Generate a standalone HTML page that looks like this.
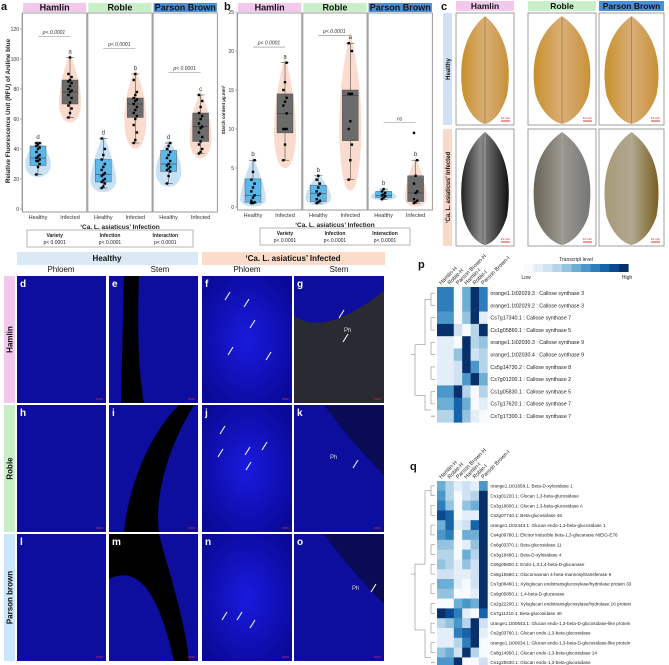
<!DOCTYPE html>
<html><head><meta charset="utf-8"><style>
body{margin:0;background:#fff;}
svg{display:block;font-family:"Liberation Sans",sans-serif;}
</style></head><body>
<svg id="fig" width="669" height="665" viewBox="0 0 669 665" xmlns="http://www.w3.org/2000/svg">
<defs>
<radialGradient id="glowB" cx="50%" cy="50%" r="60%"><stop offset="0" stop-color="#1a1ae0"/><stop offset="1" stop-color="#0a0a9a"/></radialGradient>
<linearGradient id="leafH" x1="0" x2="1"><stop offset="0" stop-color="#c8902a"/><stop offset="0.5" stop-color="#d9ae78"/><stop offset="1" stop-color="#c89038"/></linearGradient>
<linearGradient id="leafI1" x1="0" x2="1"><stop offset="0" stop-color="#222"/><stop offset="0.4" stop-color="#888"/><stop offset="1" stop-color="#111"/></linearGradient>
<linearGradient id="leafI2" x1="0" x2="1"><stop offset="0" stop-color="#6a6458"/><stop offset="0.5" stop-color="#9a9890"/><stop offset="1" stop-color="#777"/></linearGradient>
<linearGradient id="leafI3" x1="0" x2="1"><stop offset="0" stop-color="#a89a7a"/><stop offset="0.5" stop-color="#b0a890"/><stop offset="1" stop-color="#7a6020"/></linearGradient>
</defs>
<g id="pa"></g>
<g id="pb"></g>
<g id="pc"></g>
<g id="pmic"></g>
<g id="pp"></g>
<g id="pq"></g>
</svg>
<script>
// ---------- Panel a data ----------
const varieties = ["Hamlin","Roble","Parson Brown"];
const groups = ["Healthy","Infected"];
const aMin = [[23,61],[14,44],[17,37]];
const aQ1 = [[29,70],[18,61],[25,45]];
const aMed = [[34,78],[23,70],[30,55]];
const aQ3 = [[42,86],[33,74],[39,64]];
const aMax = [[44,101],[47,90],[44,76]];
const aLetters = [["d","a"],["d","b"],["d","c"]];
const aBracket = [115,107,91];
const aPoints = [
 [[23,28,30,32,32,33,34,35,36,38,40,41,42,43,44,44],[61,64,67,69,71,74,76,78,79,80,82,84,85,86,88,90,101]],
 [[14,15,17,18,19,20,22,23,24,26,28,30,33,36,40,47],[44,46,51,56,60,62,64,66,68,70,72,73,74,76,78,86,90]],
 [[17,22,25,26,27,28,29,30,32,34,36,38,40,42,44],[37,38,40,43,45,48,51,54,55,57,60,62,64,68,72,76]]
];
const aTicks = [0,20,40,60,80,100,120];
// ---------- Panel b data ----------
const bMin = [[0.5,6],[0.5,3.5],[1,0.5]];
const bQ1 = [[0.6,9.5],[0.7,8.5],[1.2,0.7]];
const bMed = [[1.5,12],[1.7,14.3],[1.5,1.8]];
const bQ3 = [[3.6,14.5],[2.8,15],[2,4]];
const bMax = [[6,18.5],[4,21],[2.3,6]];
const bLetters = [["b","a"],["b","a"],["b","b"]];
const bBracket = [20.5,22,10.8];
const bBracketLabel = ["p< 0.0001","p< 0.0001","ns"];
const bPoints = [
 [[0.5,0.5,0.6,0.8,1.2,1.5,2,2.5,3,3.5,4.5,6],[6,8,10,10,10,12,13,13.5,14,15,16,18.5]],
 [[0.5,0.6,0.8,1,1.5,1.7,2,2.5,3,3.5,4],[3.5,6,8,10,11,14.5,14.5,14.5,20,21]],
 [[1,1.2,1.4,1.5,1.6,1.8,2,2.3],[0.5,0.6,0.8,1,1.8,2,3,4,6,9.5]]
];
const bTicks = [0,5,10,15,20,25];
// ---------- Heatmap p ----------
const pRows = ["orange1.1t02029.3 : Callose synthase 3","orange1.1t02029.2 : Callose synthase 3","Cs7g17340.1 : Callose synthase 7","Cs1g05860.1 : Callose synthase 5","orange1.1t02030.3 : Callose synthase 9","orange1.1t02030.4 : Callose synthase 9","Cs5g14730.2 : Callose synthase 8","Cs7g01200.1 : Callose synthase 2","Cs1g05830.1 : Callose synthase 5","Cs7g17620.1 : Callose synthase 7","Cs7g17300.1 : Callose synthase 7"];
const hmCols = ["Hamlin-H","Roble-H","Parson Brown-H","Hamlin-I","Roble-I","Parson Brown-I"];
const pVals = [[7,7,0,5,10,7],[7,7,0,5,10,7],[6,6,0,4,10,1],[10,10,2,0,3,10],[1,1,0,10,3,4],[1,1,4,10,2,3],[1,1,2,10,6,3],[1,1,2,6,10,5],[6,6,10,3,0,3],[5,5,8,5,0,1],[3,3,8,4,1,0]];
// ---------- Heatmap q ----------
const qRows = ["orange1.1t01658.1: Beta-D-xylosidase 1","Cs1g01220.1: Glucan 1,3-beta-glucosidase","Cs3g18600.1: Glucan 1,3-beta-glucosidase A","Cs2g07740.1: Beta-glucosidase 46","orange1.1t02443.1: Glucan endo-1,3-beta-glucosidase 1","Cs4g09780.1: Elicitor inducible beta-1,3-glucanase NtEIG-E76","Cs8g03370.1: Beta-glucosidase 11","Cs3g18490.1: Beta-D-xylosidase 4","Cs9g05800.1: Endo-1,3;1,4-beta-D-glucanase","Cs6g15560.1: Glucomannan 4-beta-mannosyltransferase 9","Cs7g08460.1: Xyloglucan endotransglucosylase/hydrolase protein 33","Cs9g05850.1: 1,4-beta-D-glucanase","Cs2g22200.1: Xyloglucan endotransglycosylase/hydrolase 16 protein","Cs7g11210.1: Beta-glucosidase 40","orange1.1t00643.1: Glucan endo-1,3-beta-D-glucosidase-like protein","Cs2g03760.1: Glucan endo-1,3-beta-glucosidase","orange1.1t00634.1: Glucan endo-1,3-beta-D-glucosidase-like protein","Cs8g14950.1: Glucan endo-1,3-beta-glucosidase 14","Cs1g25530.1: Glucan endo-1,3-beta-glucosidase"];
const qVals = [[5,3,1,2,1,6],[6,3,0,2,3,10],[7,4,0,4,5,10],[9,8,0,1,1,10],[5,8,1,2,8,10],[6,7,0,5,5,10],[4,4,0,1,4,10],[3,3,0,5,3,10],[4,3,1,4,2,10],[2,2,1,1,2,10],[5,5,1,0,2,10],[4,4,0,0,1,10],[0,0,5,6,5,10],[10,9,7,1,0,8],[3,4,6,3,10,2],[1,1,7,8,10,1],[1,1,3,7,10,0],[4,5,2,10,3,0],[6,6,10,0,0,2]];
const palette = ["#f7fbff","#e3eef9","#cfe1f2","#b5d4e9","#93c3df","#6daed5","#4b97c9","#2f7ebc","#1864aa","#0a4a90","#08306b"];

const NS="http://www.w3.org/2000/svg";
function mk(parent,tag,attrs,text){const e=document.createElementNS(NS,tag);for(const k in attrs)e.setAttribute(k,attrs[k]);if(text!==undefined)e.textContent=text;parent.appendChild(e);return e;}
const stripCols=["#f2c9ec","#c9efc9","#4a90d9"];

function boxPanel(g,o){
  const yS=v=>o.y0-(v-o.yMinV)*o.k;
  // y axis
  mk(g,"line",{x1:o.x0,x2:o.x0,y1:o.top,y2:o.y0+2,stroke:"#888","stroke-width":0.6});
  o.ticks.forEach(t=>{
    const tk=mk(g,"line",{x1:o.x0-2,x2:o.x0,y1:yS(t),y2:yS(t),stroke:"#888","stroke-width":0.6});
    
    const tl=mk(g,"text",{x:o.x0-3,y:yS(t)+2,"font-size":5,"text-anchor":"end",fill:"#333"},String(t));
    
  });
  for(let v=0;v<3;v++){
    const fx=o.x0+v*o.fw;
    const st=mk(g,"rect",{x:fx+1,y:o.top-10,width:o.fw-2,height:9,fill:stripCols[v]});
    
    const stt=mk(g,"text",{x:fx+o.fw/2,y:o.top-2.5,"font-size":9,"font-weight":"bold","text-anchor":"middle",fill:"#111"},varieties[v]);
    
    const fr=mk(g,"rect",{x:fx+0.5,y:o.top,width:o.fw-1,height:o.y0+3-o.top,fill:"none",stroke:"#999","stroke-width":1});
    
    for(let gi=0;gi<2;gi++){
      const cx=fx+(gi===0?16:48);
      const mn=o.mn[v][gi],q1=o.q1[v][gi],md=o.md[v][gi],q3=o.q3[v][gi],mx=o.mx[v][gi];
      const vw=gi===0?14:12;
      const top=yS(mx+(mx-mn)*0.08),bot=yS(Math.max(o.yMinV,mn-(mx-mn)*0.08)),mid=yS(md);
      const vi=mk(g,"path",{d:`M${cx},${top} C${cx+vw*0.6},${(top+mid)/2} ${cx+vw},${mid} ${cx+vw*0.9},${(mid+bot)/2} C${cx+vw*0.7},${bot} ${cx+2},${bot} ${cx},${bot} C${cx-2},${bot} ${cx-vw*0.7},${bot} ${cx-vw*0.9},${(mid+bot)/2} C${cx-vw},${mid} ${cx-vw*0.6},${(top+mid)/2} ${cx},${top}Z`,fill:gi===0?"#bcd9f2":"#f9d2c2",opacity:0.8});
      
      mk(g,"line",{x1:cx,x2:cx,y1:yS(mx),y2:yS(mn),stroke:"#333","stroke-width":0.5});
      mk(g,"line",{x1:cx-4,x2:cx+4,y1:yS(mx),y2:yS(mx),stroke:"#333","stroke-width":0.5});
      mk(g,"line",{x1:cx-4,x2:cx+4,y1:yS(mn),y2:yS(mn),stroke:"#333","stroke-width":0.5});
      const bx=mk(g,"rect",{x:cx-8,y:yS(q3),width:16,height:yS(q1)-yS(q3),fill:gi===0?"#5bb8e8":"#6b6b6b",stroke:"#444","stroke-width":0.4});
      
      mk(g,"line",{x1:cx-8,x2:cx+8,y1:mid,y2:mid,stroke:"#333","stroke-width":0.5});
      o.pts[v][gi].forEach((p,i)=>{
        const d=mk(g,"rect",{x:cx-1.2+((i%3)-1)*1.6,y:yS(p)-1.2,width:2.4,height:2.4,fill:"#000"});
        
      });
      const lt=mk(g,"text",{x:cx,y:yS(mx)-4,"font-size":6,"text-anchor":"middle",fill:"#333"},o.letters[v][gi]);
      
      const xl=mk(g,"text",{x:cx,y:o.y0+10,"font-size":5.5,"text-anchor":"middle",fill:"#333"},groups[gi]);
      
    }
    const by=yS(o.br[v]);
    const bl=mk(g,"line",{x1:fx+16,x2:fx+48,y1:by,y2:by,stroke:"#888","stroke-width":0.6});
    
    const bt=mk(g,"text",{x:fx+32,y:by-2.5,"font-size":5,"text-anchor":"middle",fill:"#333","font-style":"italic"},o.brl[v]);
    
  }
  const xt=mk(g,"text",{x:o.x0+o.fw*1.5,y:o.y0+20,"font-size":6.5,"font-weight":"bold","text-anchor":"middle",fill:"#222"},"‘Ca. L. asiaticus’ Infection");
  
  const yt=mk(g,"text",{x:0,y:0,"font-size":o.ytSize,"font-weight":"bold","text-anchor":"middle",fill:"#222",transform:`translate(${o.ytX},${(o.top+o.y0)/2}) rotate(-90)`},o.ytitle);
  
  // stats table
  const tb=mk(g,"rect",{x:o.tx,y:o.y0+21,width:o.tw,height:17,fill:"#fff",stroke:"#888","stroke-width":0.6});
  
  ["Variety","Infection","Interaction"].forEach((h,i)=>{
    const cx=o.tx+o.tw*(i+0.5)/3;
    const th=mk(g,"text",{x:cx,y:o.y0+28,"font-size":5,"font-weight":"bold","text-anchor":"middle",fill:"#222"},h);
    
    const td=mk(g,"text",{x:cx,y:o.y0+35,"font-size":5,"text-anchor":"middle",fill:"#222"},"p< 0.0001");
    
  });
  const pl=mk(g,"text",{x:o.lx,y:10,"font-size":11,"font-weight":"bold",fill:"#111"},o.label);
  
}
boxPanel(document.getElementById("pa"),{x0:22,fw:65.3,top:13,y0:209,yMinV:0,k:1.5,ticks:aTicks,mn:aMin,q1:aQ1,md:aMed,q3:aQ3,mx:aMax,pts:aPoints,letters:aLetters,br:aBracket,brl:["p< 0.0001","p< 0.0001","p< 0.0001"],ytitle:"Relative Fluorescence Unit (RFU) of Aniline blue",ytSize:6.3,ytX:10,tx:27,tw:166,label:"a",lx:1});
boxPanel(document.getElementById("pb"),{x0:237,fw:65.3,top:13,y0:207,yMinV:0,k:7.8,ticks:bTicks,mn:bMin,q1:bQ1,md:bMed,q3:bQ3,mx:bMax,pts:bPoints,letters:bLetters,br:bBracket,brl:bBracketLabel,ytitle:"Starch content µg.mm²",ytSize:4.5,ytX:225,tx:260,tw:150,label:"b",lx:224});

// ---------- Panel c ----------
(function(){
  const g=document.getElementById("pc");
  const pl=mk(g,"text",{x:441,y:10,"font-size":11,"font-weight":"bold",fill:"#111"},"c");
  
  const cols=[[456,514],[528,596],[599,664]];
  const rows=[[13,125],[129,246]];
  varieties.forEach((v,i)=>{
    const r=mk(g,"rect",{x:cols[i][0],y:1,width:cols[i][1]-cols[i][0],height:10,fill:stripCols[i]});
    
    const t=mk(g,"text",{x:(cols[i][0]+cols[i][1])/2,y:9,"font-size":8.5,"font-weight":"bold","text-anchor":"middle",fill:"#111"},v);
    
  });
  [["Healthy","#cfe2f5"],["‘Ca. L. asiaticus’ Infected","#f9d9c9"]].forEach((rl,j)=>{
    const r=mk(g,"rect",{x:443,y:rows[j][0],width:9,height:rows[j][1]-rows[j][0],fill:rl[1]});
    
    const t=mk(g,"text",{x:0,y:0,"font-size":6,"font-weight":"bold","text-anchor":"middle",fill:"#111",transform:`translate(450,${(rows[j][0]+rows[j][1])/2}) rotate(-90)`},rl[0]);
    
  });
  const fills=[["url(#leafH)","url(#leafH)","url(#leafH)"],["url(#leafI1)","url(#leafI2)","url(#leafI3)"]];
  for(let j=0;j<2;j++)for(let i=0;i<3;i++){
    const [x1,x2]=cols[i],[y1,y2]=rows[j];
    const fr=mk(g,"rect",{x:x1,y:y1,width:x2-x1,height:y2-y1,fill:"#fff",stroke:"#888","stroke-width":0.8});
    
    const cx=(x1+x2)/2,w=(x2-x1)/2-3;
    const lf=mk(g,"path",{d:`M${cx},${y1+3} C${cx+w*0.8},${y1+20} ${cx+w*1.05},${y1+50} ${cx+w*0.85},${y2-30} C${cx+w*0.6},${y2-8} ${cx+5},${y2-2} ${cx},${y2-1} C${cx-5},${y2-2} ${cx-w*0.6},${y2-8} ${cx-w*0.85},${y2-30} C${cx-w*1.05},${y1+50} ${cx-w*0.8},${y1+20} ${cx},${y1+3}Z`,fill:fills[j][i]});
    
    mk(g,"line",{x1:cx,x2:cx,y1:y1+4,y2:y2-2,stroke:j===0?"#a8803a":"#aaa","stroke-width":0.8});
    mk(g,"line",{x1:x2-13,x2:x2-4,y1:y2-4,y2:y2-4,stroke:"#d00","stroke-width":0.8});
    mk(g,"text",{x:x2-8.5,y:y2-6,"font-size":3,"text-anchor":"middle",fill:"#d00"},"10 mm");
  }
})();

// ---------- Micrographs d-o ----------
(function(){
  const g=document.getElementById("pmic");
  const h1=mk(g,"rect",{x:17,y:252,width:181,height:13,fill:"#dbe8f6"});
  
  const h2=mk(g,"rect",{x:202,y:252,width:183,height:13,fill:"#fbdccb"});
  
  mk(g,"text",{x:107,y:261,"font-size":8,"font-weight":"bold","text-anchor":"middle",fill:"#111"},"Healthy");
  mk(g,"text",{x:293,y:261,"font-size":8,"font-weight":"bold","text-anchor":"middle",fill:"#111"},"‘Ca. L. asiaticus’ Infected");
  [["Phloem",61],["Stem",160],["Phloem",247],["Stem",339]].forEach(s=>{
    const t=mk(g,"text",{x:s[1],y:272,"font-size":8,"text-anchor":"middle",fill:"#111"},s[0]);
    
  });
  const cols=[[17,106],[109,198],[202,292],[294,384]];
  const rows=[[276,403],[405,532],[534,661]];
  const rowLab=[["Hamlin","#f2c9ec"],["Roble","#c9efc9"],["Parson brown","#c9e6fb"]];
  const letters=[["d","e","f","g"],["h","i","j","k"],["l","m","n","o"]];
  rows.forEach((r,ri)=>{
    const rb=mk(g,"rect",{x:4,y:r[0],width:11,height:r[1]-r[0],fill:rowLab[ri][1]});
    
    const t=mk(g,"text",{x:0,y:0,"font-size":8,"font-weight":"bold","text-anchor":"middle",fill:"#111",transform:`translate(12.5,${(r[0]+r[1])/2}) rotate(-90)`},rowLab[ri][0]);
    
    cols.forEach((c,ci)=>{
      const w=c[1]-c[0],h=r[1]-r[0];
      const im=mk(g,"rect",{x:c[0],y:r[0],width:w,height:h,fill:ci===2?"url(#glowB)":"#0d0d9e"});
      
      if(ci===1){
        const d = ri===0?`M${c[0]+15},${r[0]} L${c[0]+30},${r[0]} C${c[0]+28},${r[0]+60} ${c[0]+30},${r[0]+100} ${c[0]+35},${r[1]} L${c[0]+12},${r[1]} Z`
          : ri===1?`M${c[0]+70},${r[0]} L${c[0]+85},${r[0]} C${c[0]+60},${r[0]+40} ${c[0]+45},${r[0]+90} ${c[0]+50},${r[1]} L${c[0]+15},${r[1]} C${c[0]+20},${r[0]+80} ${c[0]+40},${r[0]+30} ${c[0]+70},${r[0]}Z`
          : `M${c[0]},${r[0]} L${c[0]+50},${r[0]} C${c[0]+60},${r[0]+40} ${c[0]+75},${r[0]+80} ${c[0]+80},${r[1]} L${c[0]+65},${r[1]} C${c[0]+50},${r[0]+60} ${c[0]+30},${r[0]+30} ${c[0]},${r[0]+45}Z`;
        mk(g,"path",{d:d,fill:"#000"});
      }
      if(ci===3 && ri===0){
        mk(g,"path",{d:`M${c[0]},${r[0]+40} C${c[0]+30},${r[0]+60} ${c[0]+70},${r[0]+30} ${c[1]},${r[0]+15} L${c[1]},${r[1]} L${c[0]},${r[1]}Z`,fill:"#2a2a33"});
      }
      if(ci===3 && ri>0){
        mk(g,"path",{d:`M${c[0]+30},${r[0]} L${c[1]},${r[0]} L${c[1]},${r[0]+70} C${c[0]+60},${r[0]+40} ${c[0]+45},${r[0]+20} ${c[0]+30},${r[0]}Z`,fill:"#0a0a55"});
      }
      const lt=mk(g,"text",{x:c[0]+3,y:r[0]+11,"font-size":10,"font-weight":"bold",fill:"#fff"},letters[ri][ci]);
      
      mk(g,"line",{x1:c[1]-10,x2:c[1]-3,y1:r[1]-4,y2:r[1]-4,stroke:"#c03050","stroke-width":0.8});
    });
  });
  const arrows=[[2,0,[[225,300],[244,307],[250,328],[228,355],[266,360]]],[3,0,[[339,318],[343,342]]],[2,1,[[220,434],[218,457],[245,455],[262,450],[246,470]]],[3,1,[[353,468]]],[2,2,[[222,620],[237,620],[250,628]]],[3,2,[[371,592]]]];
  arrows.forEach(a=>a[2].forEach(p=>{
    const ar=mk(g,"line",{x1:p[0]+5,y1:p[1]-8,x2:p[0],y2:p[1],stroke:"#fff","stroke-width":1});
    
  }));
  [[344,332],[330,459],[352,590]].forEach(p=>mk(g,"text",{x:p[0],y:p[1],"font-size":6,fill:"#ddd"},"Ph"));
})();

// ---------- Heatmaps ----------
function heatmap(g,o){
  const lt=mk(g,"text",{x:o.lx,y:o.ly,"font-size":11,"font-weight":"bold",fill:"#111"},o.label);
  
  hmCols.forEach((c,i)=>{
    const t=mk(g,"text",{x:0,y:0,"font-size":5.5,fill:"#222",transform:`translate(${o.x+i*o.cw+o.cw/2},${o.y-2}) rotate(-45)`},c);
    
  });
  o.vals.forEach((row,ri)=>{
    row.forEach((v,ci)=>{
      const r=mk(g,"rect",{x:o.x+ci*o.cw,y:o.y+ri*o.rh,width:o.cw+0.3,height:o.rh+0.3,fill:palette[Math.max(0,Math.min(10,Math.round(v)))]});
      
    });
    const t=mk(g,"text",{x:o.x+6*o.cw+3,y:o.y+ri*o.rh+o.rh/2+1.8,"font-size":o.fs,fill:"#222"},o.rows[ri]);
    
  });
  // simple dendrogram
  const n=o.vals.length,dx=o.x-2;
  let d="";
  for(let i=0;i<n;i+=2){const y1=o.y+i*o.rh+o.rh/2,y2=o.y+Math.min(i+1,n-1)*o.rh+o.rh/2;d+=`M${dx},${y1}H${dx-4}V${y2}H${dx} `;}
  const mid=o.y+n*o.rh/2;
  d+=`M${dx-4},${o.y+o.rh}H${dx-10}V${mid-10}H${dx-20}V${o.y+n*o.rh*0.8}H${dx-10}V${o.y+(n-1)*o.rh}H${dx-4} M${dx-20},${mid}H${dx-24}`;
  const dd=mk(g,"path",{d:d,fill:"none",stroke:"#777","stroke-width":0.5});
  
}
heatmap(document.getElementById("pp"),{x:437,y:287,cw:8.4,rh:12.3,vals:pVals,rows:pRows,fs:5.3,label:"p",lx:418,ly:268});
heatmap(document.getElementById("pq"),{x:437,y:481,cw:8.4,rh:9.8,vals:qVals,rows:qRows,fs:4.6,label:"q",lx:410,ly:470});
// colour legend
(function(){
  const g=document.getElementById("pp");
  const lg=mk(g,"g",{});
  
  palette.forEach((c,i)=>mk(lg,"rect",{x:524+i*9.5,y:264,width:9.6,height:8,fill:c}));
  mk(lg,"text",{x:576,y:261,"font-size":5,"text-anchor":"middle",fill:"#222"},"Transcript level");
  mk(lg,"text",{x:526,y:279,"font-size":5,"text-anchor":"middle",fill:"#222"},"Low");
  mk(lg,"text",{x:627,y:279,"font-size":5,"text-anchor":"middle",fill:"#222"},"High");
})();
</script>
</body></html>
